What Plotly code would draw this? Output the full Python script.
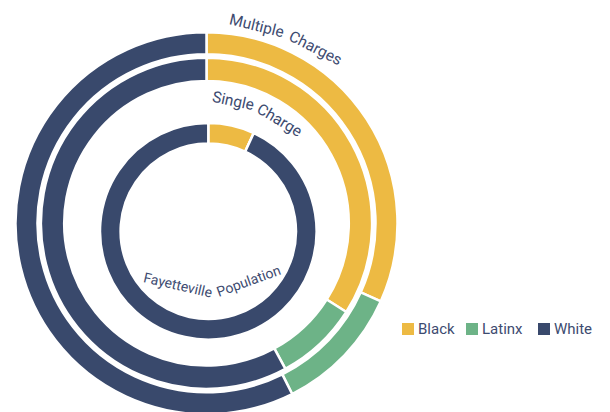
import plotly.graph_objects as go

# ---- data (percent shares) ----
categories = ["Black", "Latinx", "White"]
multiple_charges = [31.7, 10.9, 57.4]
single_charge = [34.0, 8.1, 57.9]
fayetteville_population = [6.9, 0.0, 93.1]
ring_names = ["Multiple Charges", "Single Charge", "Fayetteville Population"]

colors = ["#EDBA43", "#6DB387", "#39496C"]
text_color = "#3D4B70"
FONT = "Roboto, sans-serif"

W, H = 610, 412
OFF = 8  # page offset of the figure div inside the window


def px_domain(cx, cy, r):
    cx -= OFF
    cy -= OFF
    x0 = max(0.0, (cx - r) / W)
    x1 = min(1.0, (cx + r) / W)
    y0 = max(0.0, 1 - (cy + r) / H)
    y1 = min(1.0, 1 - (cy - r) / H)
    return dict(x=[x0, x1], y=[y0, y1])


def px_xy(px, py):
    return (px - OFF) / W, 1 - (py - OFF) / H


rings = [
    (ring_names[0], multiple_charges, px_domain(206.5, 223.3, 191), 169 / 191),
    (ring_names[1], single_charge, px_domain(206.5, 223.3, 165.6), 142.3 / 165.6),
    (ring_names[2], fayetteville_population, px_domain(208.3, 231.3, 108.3), 87.7 / 108.3),
]

fig = go.Figure()
for name, vals, dom, hole in rings:
    fig.add_trace(go.Pie(
        name=name,
        labels=categories,
        values=vals,
        domain=dom,
        hole=hole,
        sort=False,
        direction="clockwise",
        rotation=0,
        textinfo="none",
        marker=dict(colors=colors, line=dict(color="white", width=2.5)),
        showlegend=False,
    ))

# curved ring labels approximated word by word
labels = [
    ("Multiple", 257, 26, 14, 15.5),
    ("Charges", 315, 48, 27, 15.5),
    ("Single", 233, 101, 12, 15.5),
    ("Charge", 279, 120, 31, 15.5),
    ("Fayetteville", 178, 285, 13, 14),
    ("Population", 248, 281, -20, 14),
]
for txt, px, py, ang, size in labels:
    x, y = px_xy(px, py)
    fig.add_annotation(
        x=x, y=y, xref="paper", yref="paper", text=txt, showarrow=False,
        xanchor="center", yanchor="middle", textangle=ang,
        font=dict(family=FONT, size=size, color=text_color),
    )

# legend key (square + label per category)
legend_square_left = [402, 466, 538]
legend_y = 329
for cat, col, sx in zip(categories, colors, legend_square_left):
    x0, y0 = px_xy(sx, legend_y + 6)
    x1, y1 = px_xy(sx + 12, legend_y - 6)
    fig.add_shape(type="rect", xref="paper", yref="paper",
                  x0=x0, x1=x1, y0=y0, y1=y1,
                  fillcolor=col, line=dict(width=0))
    tx, ty = px_xy(sx + 14, legend_y)
    fig.add_annotation(
        x=tx, y=ty, xref="paper", yref="paper", text=cat, showarrow=False,
        xanchor="left", yanchor="middle",
        font=dict(family=FONT, size=15, color=text_color),
    )

fig.update_layout(
    width=W, height=H,
    margin=dict(l=0, r=0, t=0, b=0),
    paper_bgcolor="white", plot_bgcolor="white",
    showlegend=False,
)

fig.write_html("out.html")
